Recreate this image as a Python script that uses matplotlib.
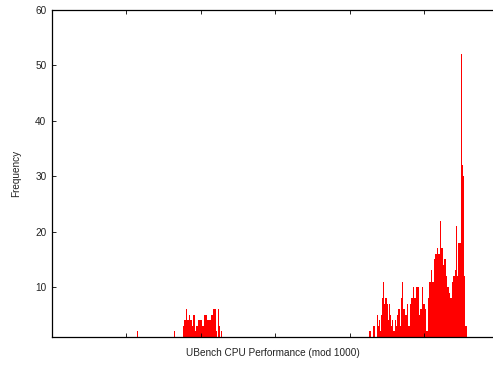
import numpy as np
import matplotlib
matplotlib.use("Agg")
import matplotlib.pyplot as plt

plt.rcParams["font.family"] = ["Liberation Sans", "DejaVu Sans"]

# 直方图数据: (起始 bin, 频数列表), bin 宽 = 1
spike0_x, spike0_y = [0], [24]
lone_x = [115, 164, 169]
lone_y = [2, 2, 2]

c1_start = 177
c1_counts = [3, 4, 4, 4, 6, 4, 4, 4, 5, 4, 4, 4, 3, 5, 5, 4, 2, 3, 3, 4,
             4, 4, 4, 4, 4, 3, 3, 5, 5, 5, 5, 5, 4, 4, 4, 4, 4, 5, 5, 6,
             6, 6, 6, 6, 2, 1, 1, 6, 3, 1, 7, 2]

c2_start = 426
c2_counts = [2, 2, 2, 0, 0, 3, 3, 3, 0, 0, 0, 5, 3, 4, 4, 2,
             5, 8, 8, 11, 7, 8, 8, 8, 7, 4, 4, 7, 5, 3, 3, 4,
             2, 2, 2, 4, 3, 5, 5, 6, 6, 3, 3, 8, 6, 11, 6, 6,
             7, 5, 5, 7, 10, 3, 3, 7, 5, 8, 8, 10, 6, 8, 8, 10,
             7, 10, 10, 5, 7, 6, 6, 10, 4, 7, 7, 6, 5, 2, 2, 8,
             9, 11, 11, 13, 10, 11, 11, 15, 13, 16, 16, 17, 19, 16, 16, 21,
             22, 17, 17, 19, 14, 15, 15, 13, 12, 10, 10, 11, 9, 8, 8, 10,
             11, 12, 12, 12, 13, 21, 12, 12, 18, 18, 18, 41, 52, 32, 30, 30,
             12, 3, 3, 3]

XLIM = (0, 592)
YLIM = (1, 60)
yticks = [10, 20, 30, 40, 50, 60]
xticks = [100, 200, 300, 400, 500]

W, H = 493, 365
fig = plt.figure(figsize=(W / 100, H / 100), dpi=100)
ax = fig.add_axes([52 / W, (H - 337) / H, (W - 52) / W, (337 - 10) / H])

xs = np.concatenate([lone_x,
                     np.arange(c1_start, c1_start + len(c1_counts)),
                     np.arange(c2_start, c2_start + len(c2_counts))])
ys = np.concatenate([lone_y, c1_counts, c2_counts])
ax.bar(xs, ys, width=1.0, color="#ff0000", linewidth=0, zorder=1)
# bin 0 落在左轴上, 与轴线叠成暗红
ax.bar(spike0_x, spike0_y, width=1.0, color="#ff0000", linewidth=0,
       alpha=0.45, zorder=4, clip_on=False)

ax.set_xlim(*XLIM)
ax.set_ylim(*YLIM)
ax.set_xticks(xticks)
ax.set_xticklabels([])
ax.set_yticks(yticks)
ax.tick_params(direction="in", length=3, width=0.6, top=True, right=False,
               labelsize=7.2, labelcolor="#222222", pad=4)
for s in ["left", "bottom", "top"]:
    ax.spines[s].set_linewidth(0.9)
    ax.spines[s].set_zorder(3)
ax.spines["right"].set_visible(False)

ax.set_xlabel("UBench CPU Performance (mod 1000)", fontsize=7.2, color="#222222", labelpad=4)
ax.set_ylabel("Frequency", fontsize=7.2, color="#222222", labelpad=10)

fig.savefig("out.png", dpi=100)
